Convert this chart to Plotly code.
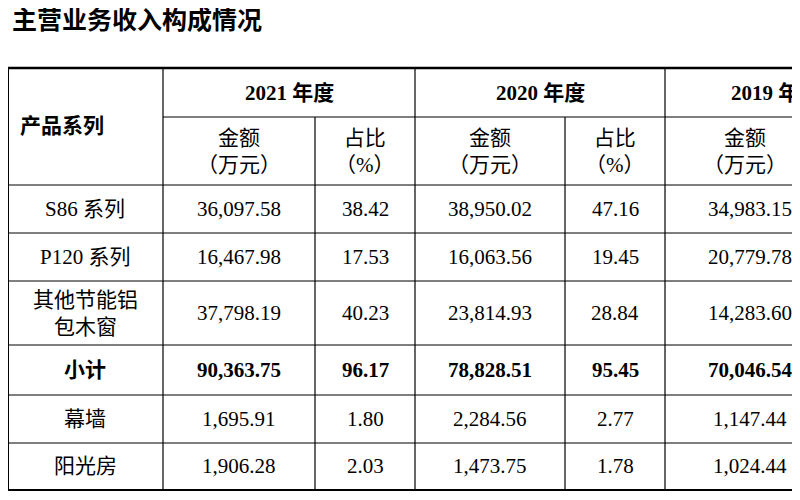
import plotly.graph_objects as go

title = "主营业务收入构成情况"
years = ["2021 年度", "2020 年度", "2019 年度"]
sub_headers = ["金额<br>（万元）", "占比<br>（%）", "金额<br>（万元）", "占比<br>（%）", "金额<br>（万元）"]
row_labels = ["S86 系列", "P120 系列", "其他节能铝<br>包木窗", "<b>小计</b>", "幕墙", "阳光房"]
amt_2021 = ["36,097.58", "16,467.98", "37,798.19", "90,363.75", "1,695.91", "1,906.28"]
pct_2021 = ["38.42", "17.53", "40.23", "96.17", "1.80", "2.03"]
amt_2020 = ["38,950.02", "16,063.56", "23,814.93", "78,828.51", "2,284.56", "1,473.75"]
pct_2020 = ["47.16", "19.45", "28.84", "95.45", "2.77", "1.78"]
amt_2019 = ["34,983.15", "20,779.78", "14,283.60", "70,046.54", "1,147.44", "1,024.44"]

FONT = "Liberation Serif, Noto Sans CJK SC"
col_edges = [8, 163, 315, 415, 565, 665, 880]
row_edges = [185, 233, 281, 345, 395, 443, 490]
top, mid = 68, 117

fig = go.Figure()
ann = []
def txt(x, y, t, bold=False, size=21):
    ann.append(dict(x=x, y=y, text=f"<b>{t}</b>" if bold else t, showarrow=False,
                    xref="x", yref="y", font=dict(family=FONT, size=size, color="black"),
                    xanchor="center", yanchor="middle"))

ann.append(dict(x=10, y=18, text="<b>" + title + "</b>", showarrow=False, xref="x", yref="y",
                xanchor="left", yanchor="middle",
                font=dict(family="Noto Sans CJK SC", size=25, color="black")))

txt(62, 126, "产品系列", bold=True, size=21)
for i, y in enumerate(years):
    cx = (col_edges[1 + 2 * i] + col_edges[min(3 + 2 * i, 6)]) / 2
    if i == 2:
        cx = 775
    txt(cx, 93, y, bold=True)
for j, h in enumerate(sub_headers):
    cx = (col_edges[1 + j] + col_edges[2 + j]) / 2
    if j == 4:
        cx = 745
    txt(cx, 151, h, size=21)

cols = [amt_2021, pct_2021, amt_2020, pct_2020, amt_2019]
for r, lab in enumerate(row_labels):
    cy = (row_edges[r] + (row_edges[r + 1] if r + 1 < len(row_edges) else 490)) / 2
    if r == 5:
        cy = 466
    txt(85, cy, lab)
    bold = r == 3
    for j, col in enumerate(cols):
        cx = (col_edges[1 + j] + col_edges[2 + j]) / 2
        if j == 4:
            cx = 750
        txt(cx, cy, col[r], bold=bold)

shapes = []
def line(x0, y0, x1, y1, w=1.2):
    shapes.append(dict(type="line", x0=x0, y0=y0, x1=x1, y1=y1, xref="x", yref="y",
                       line=dict(color="black", width=w)))
line(0, top, 810, top, 2.5)
line(163, mid, 810, mid)
for y in row_edges:
    line(0, y, 810, y, 1.2 if y != 490 else 2)
line(8, top, 8, 490, 2)
for x in col_edges[1:6]:
    y0 = top if x in (163, 415, 665) else mid
    line(x, y0, x, 490)

fig.add_trace(go.Scatter(x=[8, 808], y=[8, 508], mode="markers", marker=dict(opacity=0), hoverinfo="skip"))
fig.update_layout(width=800, height=500, margin=dict(l=0, r=0, t=0, b=0),
                  plot_bgcolor="white", paper_bgcolor="white", showlegend=False,
                  annotations=ann, shapes=shapes,
                  xaxis=dict(range=[8, 808], visible=False),
                  yaxis=dict(range=[508, 8], visible=False))
fig.write_html("out.html")
